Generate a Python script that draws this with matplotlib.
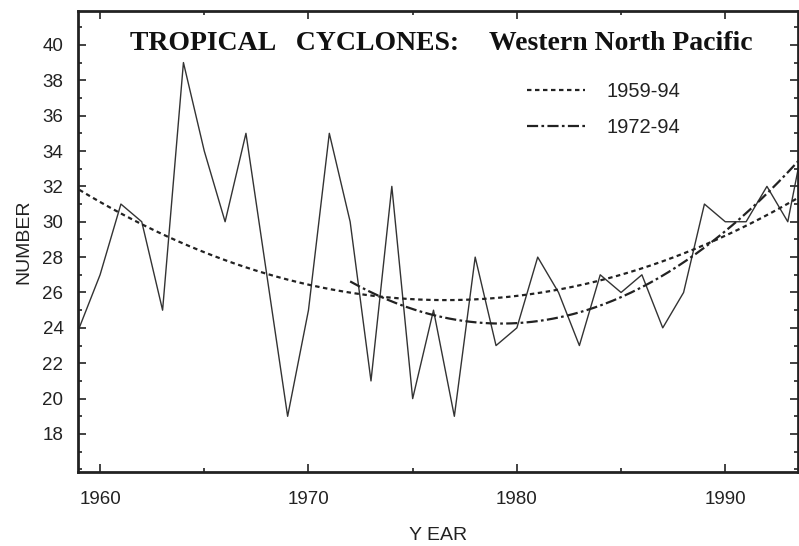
import numpy as np
import matplotlib
matplotlib.use("Agg")
import matplotlib.pyplot as plt
from matplotlib.ticker import MultipleLocator

years = np.arange(1959, 1995)
counts = [24, 27, 31, 30, 25, 39, 34, 30, 35, 27,
          19, 25, 35, 30, 21, 32, 20, 25, 19, 28,
          23, 24, 28, 26, 23, 27, 26, 27, 24, 26,
          31, 30, 30, 32, 30, 36]
fit_periods = [(1959, 1994), (1972, 1994)]
fit_labels = ["1959-94", "1972-94"]
fit_styles = [(0, (2, 1.6)), (0, (5, 1.5, 1.2, 1.5))]

plt.rcParams['font.family'] = ['Liberation Sans', 'DejaVu Sans']

fig = plt.figure(figsize=(7.99, 5.46), dpi=100)
ax = fig.add_axes([0.0976, 0.1355, 0.9014, 0.8445])

counts = np.array(counts, dtype=float)
ax.plot(years, counts, color='#333333', lw=1.0)

# quadratic fits for the two periods
for (y0, y1), lab, ls in zip(fit_periods, fit_labels, fit_styles):
    m = (years >= y0) & (years <= y1)
    coef = np.polyfit(years[m], counts[m], 2)
    xx = np.linspace(y0, y1, 200)
    ax.plot(xx, np.polyval(coef, xx), color='#222222', lw=1.6,
            linestyle=ls, label=lab)

ax.set_xlim(1958.94, 1993.5)
ax.set_ylim(15.85, 41.92)
ax.xaxis.set_major_locator(MultipleLocator(10))
ax.xaxis.set_minor_locator(MultipleLocator(5))
ax.yaxis.set_major_locator(MultipleLocator(2))
ax.yaxis.set_minor_locator(MultipleLocator(1))
ax.set_yticks(np.arange(18, 41, 2))
ax.tick_params(which='both', direction='in', top=True, right=True,
               labelsize=13.5, colors='#222222', width=1.2)
ax.tick_params(which='major', length=6)
ax.tick_params(axis='x', which='major', pad=13.5)
ax.tick_params(axis='y', which='major', pad=10.5)
ax.tick_params(which='minor', length=3)
for s in ax.spines.values():
    s.set_linewidth(2.0)
    s.set_color('#222222')

ax.set_xlabel("Y EAR", fontsize=14, color='#222222', labelpad=14)
ax.set_ylabel("NUMBER", fontsize=14, color='#222222', labelpad=7)

ax.text(0.072, 0.915, "TROPICAL   CYCLONES:", transform=ax.transAxes,
        family='Liberation Serif', fontweight='bold', fontsize=20,
        va='baseline', ha='left', color='#111111')
ax.text(0.570, 0.915, "Western North Pacific", transform=ax.transAxes,
        family='Liberation Serif', fontweight='bold', fontsize=20,
        va='baseline', ha='left', color='#111111')

ax.legend(loc='upper left', bbox_to_anchor=(0.598, 0.886), frameon=False,
          fontsize=14.5, handlelength=2.9, handletextpad=1.05,
          labelspacing=0.88, labelcolor='#222222')

fig.savefig("out.png", dpi=100)
